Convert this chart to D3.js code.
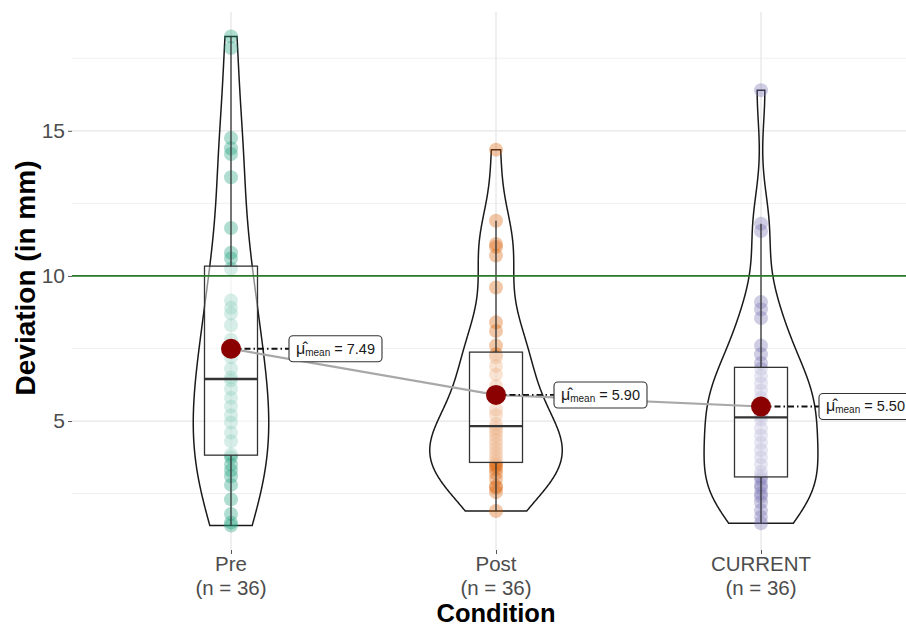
<!DOCTYPE html>
<html>
<head>
<meta charset="utf-8">
<script src="https://cdn.jsdelivr.net/npm/d3@7"></script>
<style>
  body { margin: 0; background: #fff; }
  text { font-family: "Liberation Sans", Arial, sans-serif; }
</style>
</head>
<body>
<div id="violin-chart"></div>
<script>
// conditions and their colours (Dark2)
let categories = ["Pre", "Post", "CURRENT"];
let colors = ["#1b9e77", "#d95f02", "#7570b3"];

// deviation values (mm), 36 per condition
let preValues = [1.4, 1.5, 1.8, 2.3, 2.8, 3.1, 3.3, 3.5, 3.75,
  3.85, 4.3, 4.6, 4.95, 5.2, 5.5, 5.8, 6.1, 6.4,
  6.5, 6.8, 7.2, 7.8, 8.3, 8.7, 8.9, 9.15, 10.25,
  10.6, 10.8, 11.65, 13.4, 14.2, 14.4, 14.75, 17.85, 18.25];
let postValues = [1.9, 2.55, 2.7, 2.75, 3.0, 3.2, 3.35, 3.45, 3.5,
  3.6, 3.75, 3.9, 4.05, 4.2, 4.35, 4.5, 4.65, 4.75,
  4.9, 5.2, 5.4, 5.8, 6.2, 6.6, 6.9, 7.2, 7.3,
  7.6, 8.1, 8.4, 9.6, 10.7, 11.0, 11.1, 11.9, 14.35];
let currentValues = [1.48, 1.7, 1.93, 2.2, 2.4, 2.5, 2.7, 2.8, 3.0,
  3.1, 3.25, 3.5, 3.75, 4.0, 4.25, 4.5, 4.75, 5.05,
  5.2, 5.3, 5.45, 5.6, 5.8, 6.05, 6.3, 6.55, 6.8,
  7.0, 7.3, 7.6, 8.55, 8.85, 9.1, 11.55, 11.8, 16.4];

let yMajorTicks = [5, 10, 15];
let yMinorTicks = [2.5, 7.5, 12.5, 17.5];
let thresholdValue = 10;

let values = [preValues, postValues, currentValues];

let margin = { top: 12, right: -14, bottom: 79, left: 72 };
let totalWidth = 906, totalHeight = 629;
let width = totalWidth - margin.left - margin.right;
let height = totalHeight - margin.top - margin.bottom;

let svg = d3.select("#violin-chart").append("svg")
  .attr("width", totalWidth)
  .attr("height", totalHeight)
  .append("g")
  .attr("transform", "translate(" + margin.left + "," + margin.top + ")");

// x: discrete positions 1..3 with ggplot's 0.6 expansion
let x = d3.scaleLinear().domain([0.4, categories.length + 0.6]).range([0, width]);
let unit = x(1) - x(0);

let all = d3.merge(values);
let ext = d3.extent(all);
let pad = (ext[1] - ext[0]) * 0.05;
let y = d3.scaleLinear().domain([ext[0] - pad, ext[1] + pad]).range([height, 0]);

// grid
svg.selectAll(".minor").data(yMinorTicks).enter().append("line")
  .attr("x1", 0).attr("x2", width)
  .attr("y1", function(d) { return y(d); }).attr("y2", function(d) { return y(d); })
  .attr("stroke", "#f0f0f0").attr("stroke-width", 1);
svg.selectAll(".major").data(yMajorTicks).enter().append("line")
  .attr("x1", 0).attr("x2", width)
  .attr("y1", function(d) { return y(d); }).attr("y2", function(d) { return y(d); })
  .attr("stroke", "#e6e6e6").attr("stroke-width", 1.3);
svg.selectAll(".vgrid").data(categories).enter().append("line")
  .attr("x1", function(d, i) { return x(i + 1); }).attr("x2", function(d, i) { return x(i + 1); })
  .attr("y1", 0).attr("y2", height)
  .attr("stroke", "#e6e6e6").attr("stroke-width", 1.3);

// y axis
let yAxis = svg.append("g")
  .call(d3.axisLeft(y).tickValues(yMajorTicks).tickSize(4).tickPadding(3));
yAxis.select(".domain").remove();
yAxis.selectAll(".tick line").attr("stroke", "#555");
yAxis.selectAll("text").attr("fill", "#4d4d4d").style("font-size", "21px");

// x axis labels with n
let xAxis = svg.append("g").attr("transform", "translate(0," + height + ")")
  .call(d3.axisBottom(x).tickValues(d3.range(1, categories.length + 1)).tickSize(4).tickFormat(""));
xAxis.select(".domain").remove();
xAxis.selectAll(".tick line").attr("stroke", "#555");
categories.forEach(function(c, i) {
  let t = svg.append("text")
    .attr("x", x(i + 1)).attr("y", height + 21)
    .attr("text-anchor", "middle").attr("fill", "#4d4d4d").style("font-size", "20.5px");
  t.append("tspan").attr("x", x(i + 1)).text(c);
  t.append("tspan").attr("x", x(i + 1)).attr("dy", 23.5).text("(n = " + values[i].length + ")");
});

// titles
svg.append("text")
  .attr("x", x(2)).attr("y", height + 72)
  .attr("text-anchor", "middle").style("font-size", "25.5px").style("font-weight", "bold")
  .text("Condition");
svg.append("text")
  .attr("transform", "translate(" + (-margin.left + 35) + "," + (height / 2 - 3) + ") rotate(-90)")
  .attr("text-anchor", "middle").style("font-size", "28px").style("font-weight", "bold")
  .text("Deviation (in mm)");

// kernel density (gaussian, bw.nrd0), trimmed to the data range
function kde(arr) {
  let s = arr.slice().sort(d3.ascending);
  let sd = d3.deviation(s);
  let iqr = d3.quantileSorted(s, 0.75) - d3.quantileSorted(s, 0.25);
  let lo = Math.min(sd, iqr / 1.34);
  let bw = 0.9 * lo * Math.pow(s.length, -0.2);
  let pts = [];
  let n = 512;
  for (let k = 0; k < n; k++) {
    let v = s[0] + (s[s.length - 1] - s[0]) * k / (n - 1);
    let dens = d3.mean(s, function(d) {
      let z = (v - d) / bw;
      return Math.exp(-0.5 * z * z) / Math.sqrt(2 * Math.PI);
    }) / bw;
    pts.push([v, dens]);
  }
  return pts;
}

let densities = values.map(kde);
let maxDens = d3.max(densities, function(p) { return d3.max(p, function(d) { return d[1]; }); });
let w = d3.scaleLinear().domain([0, maxDens]).range([0, unit * 0.25]);

// violins
densities.forEach(function(p, i) {
  let cx = x(i + 1);
  let right = p.map(function(d) { return [cx + w(d[1]), y(d[0])]; });
  let left = p.slice().reverse().map(function(d) { return [cx - w(d[1]), y(d[0])]; });
  svg.append("path")
    .attr("d", d3.line()(right.concat(left)) + "Z")
    .attr("fill", "none").attr("stroke", "#1a1a1a").attr("stroke-width", 1.5);
});

// points
values.forEach(function(arr, i) {
  svg.selectAll(".pt" + i).data(arr).enter().append("circle")
    .attr("cx", x(i + 1)).attr("cy", function(d) { return y(d); })
    .attr("r", 7)
    .attr("fill", colors[i]).attr("fill-opacity", 0.35);
});

// boxplots
values.forEach(function(arr, i) {
  let s = arr.slice().sort(d3.ascending);
  let q1 = d3.quantileSorted(s, 0.25), med = d3.quantileSorted(s, 0.5), q3 = d3.quantileSorted(s, 0.75);
  let iqr = q3 - q1;
  let hiW = d3.max(s.filter(function(d) { return d <= q3 + 1.5 * iqr; }));
  let loW = d3.min(s.filter(function(d) { return d >= q1 - 1.5 * iqr; }));
  let cx = x(i + 1), bw = unit * 0.1;
  svg.append("line").attr("x1", cx).attr("x2", cx).attr("y1", y(q3)).attr("y2", y(hiW))
    .attr("stroke", "#333").attr("stroke-width", 1.3);
  svg.append("line").attr("x1", cx).attr("x2", cx).attr("y1", y(q1)).attr("y2", y(loW))
    .attr("stroke", "#333").attr("stroke-width", 1.3);
  svg.append("rect")
    .attr("x", cx - bw).attr("y", y(q3)).attr("width", bw * 2).attr("height", y(q1) - y(q3))
    .attr("fill", "#fff").attr("fill-opacity", 0.5)
    .attr("stroke", "#333").attr("stroke-width", 1.3);
  svg.append("line").attr("x1", cx - bw).attr("x2", cx + bw).attr("y1", y(med)).attr("y2", y(med))
    .attr("stroke", "#333").attr("stroke-width", 2.4);
});

// threshold line
svg.append("line")
  .attr("x1", 0).attr("x2", width)
  .attr("y1", y(thresholdValue)).attr("y2", y(thresholdValue))
  .attr("stroke", "#2b7a2b").attr("stroke-width", 1.8);

// means
let means = values.map(function(arr) { return d3.mean(arr); });
svg.append("path")
  .datum(means)
  .attr("d", d3.line().x(function(d, i) { return x(i + 1); }).y(function(d) { return y(d); }))
  .attr("fill", "none").attr("stroke", "#a8a8a8").attr("stroke-width", 2.2);

let fmt = d3.format(".2f");
means.forEach(function(m, i) {
  let cx = x(i + 1), cy = y(m);
  let lx = cx + 58;
  svg.append("line").attr("x1", cx).attr("x2", lx).attr("y1", cy).attr("y2", cy)
    .attr("stroke", "#111").attr("stroke-width", 1.8).attr("stroke-dasharray", "6,3,1.5,3");
  svg.append("circle").attr("cx", cx).attr("cy", cy).attr("r", 10).attr("fill", "#8b0000");

  let g = svg.append("g");
  let rect = g.append("rect");
  let t = g.append("text").attr("x", lx + 7).attr("y", cy + 5).attr("fill", "#1a1a1a").style("font-size", "14.5px");
  t.append("tspan").style("font-size", "16px").text("\u03bc\u0302");
  t.append("tspan").attr("dy", 2).style("font-size", "10px").text("mean");
  t.append("tspan").attr("dy", -2).text(" = " + fmt(m));
  let bb = t.node().getBBox();
  rect.attr("x", lx).attr("y", cy - 13).attr("width", bb.width + 14).attr("height", 26)
    .attr("rx", 4).attr("fill", "#fff").attr("stroke", "#333").attr("stroke-width", 1.1);
});
</script>
</body>
</html>
